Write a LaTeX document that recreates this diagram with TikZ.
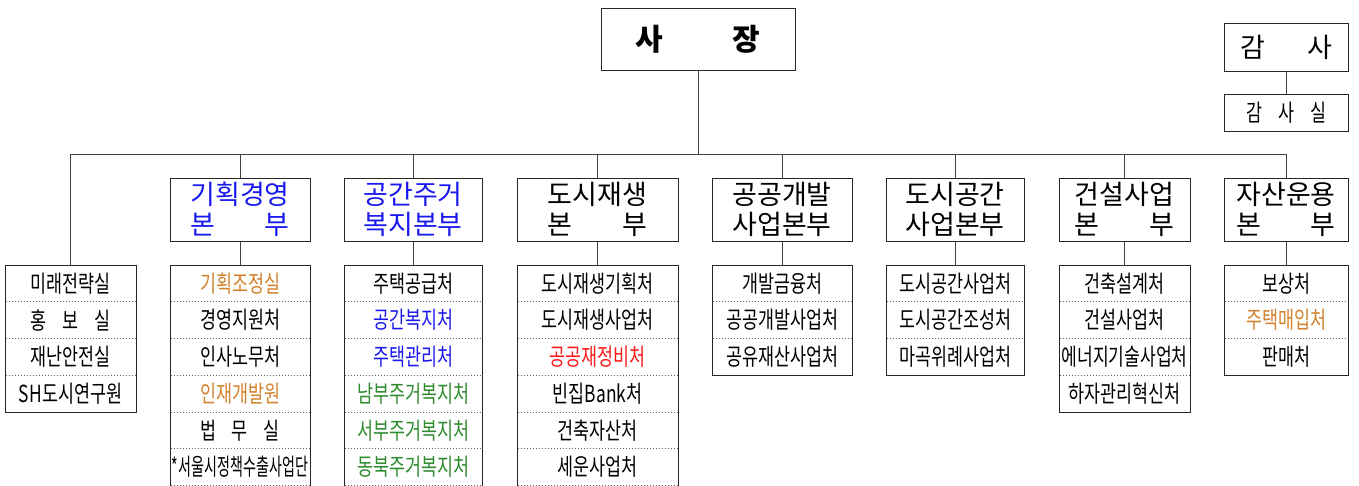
\documentclass[tikz,border=0pt]{standalone}
\usepackage{fontspec}
\usepackage{graphicx}
\newfontfamily\kr{Noto Sans CJK KR}
\newfontfamily\krc[FakeStretch=0.74]{Noto Sans CJK KR}
\definecolor{orgc}{HTML}{D2822A}
\definecolor{bluc}{HTML}{1A1AF0}
\definecolor{grnc}{HTML}{2E8B2E}
\definecolor{redc}{HTML}{FF1A1A}
\newcommand\spreadas[2]{\setbox0\hbox{#1}\makebox[\wd0][s]{#2}}
\newcommand\fitto[2]{\resizebox{#1}{\height}{#2}}
\tikzset{
  frame/.style={draw=black!85, line width=1pt, fill=white, inner sep=0pt},
  head/.style={frame, minimum height=63, font=\kr\fontsize{27}{30}\selectfont, align=center},
  link/.style={draw=black!75, line width=1pt},
  sep/.style={draw=black!60, dotted, line width=1pt},
  subtext/.style={font=\krc\fontsize{23.5}{26}\selectfont, inner sep=0pt}
}
\newcommand\subbox[6]{%
  \node[frame, minimum width={#3-#2}, minimum height={#4*36.75}, anchor=north] (#1) at ({(#2+#3)/2},265) {};
  \foreach \j in {1,...,#5} \draw[sep] ({#2+0.5},{265+\j*36.75}) -- ({#3-0.5},{265+\j*36.75});
  \foreach \c/\t [count=\i] in {#6} \node[subtext,text=\c] (#1-\i) at ({(#2+#3)/2},{265+(\i-0.5)*36.75}) {\t};
}
\begin{document}
\begin{tikzpicture}[x=1pt,y=-1pt]
\useasboundingbox (0,0) rectangle (1359,485);
\clip (0,0) rectangle (1359,485);
\fill[white] (0,0) rectangle (1359,485);
% CEO
\node[frame, minimum width=194, minimum height=62, font=\kr\bfseries\fontsize{30}{34}\selectfont] (ceo) at (698,39) {\makebox[125pt][s]{사 장}};
% audit
\node[frame, minimum width=124, minimum height=48, font=\kr\fontsize{27}{30}\selectfont] (aud) at (1286,47) {\makebox[92pt][s]{감 사}};
\node[frame, minimum width=124, minimum height=37, font=\krc\fontsize{23.5}{26}\selectfont] (audo) at (1286,112.5) {\spreadas{미래전략실}{감 사 실}};
\draw[link] (aud.south) -- (audo.north);
% bus
\coordinate (busL) at (70,154);
\coordinate (busR) at (1286,154);
% headquarters
\node[head, minimum width=140, text=bluc] (h1) at (240,209.5) {기획경영\\\spreadas{기획경영}{본 부}};
\node[head, minimum width=138, text=bluc] (h2) at (413,209.5) {공간주거\\복지본부};
\node[head, minimum width=161] (h3) at (597.5,209.5) {도시재생\\\spreadas{도시재생}{본 부}};
\node[head, minimum width=140] (h4) at (782,209.5) {공공개발\\사업본부};
\node[head, minimum width=138] (h5) at (955,209.5) {도시공간\\사업본부};
\node[head, minimum width=131] (h6) at (1124.5,209.5) {건설사업\\\spreadas{건설사업}{본 부}};
\node[head, minimum width=124] (h7) at (1286,209.5) {자산운용\\\spreadas{자산운용}{본 부}};
% sub boxes
\subbox{s0}{5}{136}{4}{3}{black/미래전략실, black/{\spreadas{미래전략실}{홍 보 실}}, black/재난안전실, black/SH도시연구원}
\subbox{s1}{170}{310}{7}{6}{orgc/기획조정실, black/경영지원처, black/인사노무처, orgc/인재개발원, black/{\spreadas{미래전략실}{법 무 실}}, black/{\fitto{136pt}{*서울시정책수출사업단}}}
\subbox{s2}{344}{482}{7}{6}{black/주택공급처, bluc/공간복지처, bluc/주택관리처, grnc/남부주거복지처, grnc/서부주거복지처, grnc/동북주거복지처}
\subbox{s3}{517}{678}{7}{6}{black/도시재생기획처, black/도시재생사업처, redc/공공재정비처, black/빈집Bank처, black/건축자산처, black/세운사업처}
\subbox{s4}{712}{852}{3}{2}{black/개발금융처, black/공공개발사업처, black/공유재산사업처}
\subbox{s5}{886}{1024}{3}{2}{black/도시공간사업처, black/도시공간조성처, black/마곡위례사업처}
\subbox{s6}{1059}{1190}{4}{3}{black/건축설계처, black/건설사업처, black/{\fitto{126pt}{에너지기술사업처}}, black/하자관리혁신처}
\subbox{s7}{1224}{1348}{3}{2}{black/보상처, orgc/주택매입처, black/판매처}
% connectors
\draw[link] (busL) -- (busR);
\draw[link] (ceo.south) -- (ceo.south |- busL);
\draw[link] (s0.north) -- (s0.north |- busL);
\foreach \k in {1,...,7} {
  \draw[link] (h\k.north) -- (h\k.north |- busL);
  \draw[link] (h\k.south) -- (s\k.north);
}
\end{tikzpicture}
\end{document}
